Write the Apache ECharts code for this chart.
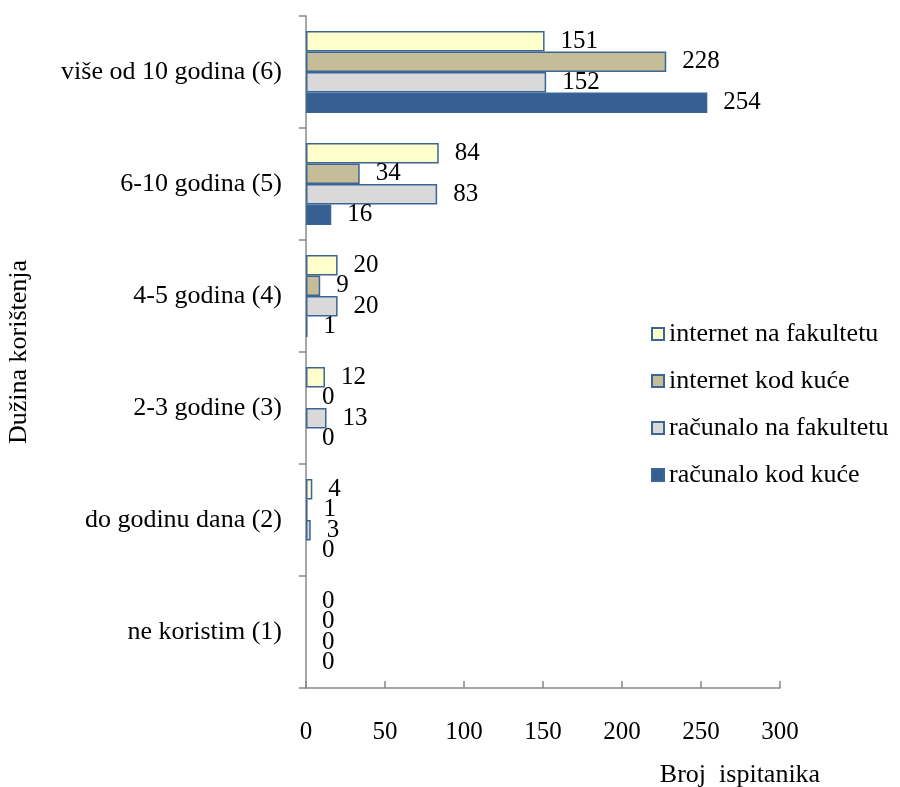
<!DOCTYPE html>
<html><head><meta charset="utf-8">
<script src="https://cdn.jsdelivr.net/npm/echarts@6/dist/echarts.min.js"></script>
<style>html,body{margin:0;padding:0;background:#fff}#c{width:900px;height:787px}</style>
</head><body><div id="c"></div>
<script>
const categories = ['ne koristim (1)', 'do godinu dana (2)', '2-3 godine (3)', '4-5 godina (4)', '6-10 godina (5)', 'više od 10 godina (6)'];
const internetNaFakultetu = [0, 4, 12, 20, 84, 151];
const internetKodKuce = [0, 1, 0, 9, 34, 228];
const racunaloNaFakultetu = [0, 3, 13, 20, 83, 152];
const racunaloKodKuce = [0, 0, 0, 1, 16, 254];
const xTicks = [0, 50, 100, 150, 200, 250, 300];
const legendOrder = ['internet na fakultetu', 'internet kod kuće', 'računalo na fakultetu', 'računalo kod kuće'];

const font = 'Liberation Serif';
const border = '#3B6597';
function s(name, data, fill) {
  return {
    name, type: 'bar',
    data: data.map(v => v === 0 ? { value: v, itemStyle: { borderWidth: 0 } } : v),
    barGap: '0%', barCategoryGap: '27%',
    itemStyle: { color: fill, borderColor: border, borderWidth: 1.5 },
    label: { show: true, position: 'right', distance: 16, color: '#000', fontFamily: font, fontSize: 25 }
  };
}
const chart = echarts.init(document.getElementById('c'));
chart.setOption({
  animation: false,
  backgroundColor: '#fff',
  textStyle: { fontFamily: font },
  grid: { left: 306, right: 120, top: 16, bottom: 99, containLabel: false, outerBoundsMode: 'none' },
  legend: {
    data: legendOrder, orient: 'vertical', left: 646, top: 316,
    itemWidth: 12, itemHeight: 12, itemGap: 21,
    textStyle: { fontFamily: font, fontSize: 26, color: '#000' },
    icon: 'rect'
  },
  xAxis: {
    type: 'value', min: xTicks[0], max: xTicks[xTicks.length - 1], interval: 50,
    name: 'Broj  ispitanika', nameLocation: 'middle', nameGap: 74,
    nameTextStyle: { fontFamily: font, fontSize: 26, color: '#000', padding: [0, 0, 0, 394] },
    axisLine: { show: true, lineStyle: { color: '#888', width: 1.5 } },
    axisTick: { show: true, inside: true, length: 7, lineStyle: { color: '#888', width: 1.5 } },
    axisLabel: { margin: 32, fontFamily: font, fontSize: 25, color: '#000' },
    splitLine: { show: false }
  },
  yAxis: {
    type: 'category', data: categories,
    name: 'Dužina korištenja', nameLocation: 'middle', nameGap: 274, nameRotate: 90,
    nameTextStyle: { fontFamily: font, fontSize: 26, color: '#000' },
    axisLine: { show: true, lineStyle: { color: '#888', width: 1.5 } },
    axisTick: { show: true, length: 7, lineStyle: { color: '#888', width: 1.5 } },
    axisLabel: { margin: 24, fontFamily: font, fontSize: 26, color: '#000' }
  },
  series: [
    s('računalo kod kuće', racunaloKodKuce, '#376092'),
    s('računalo na fakultetu', racunaloNaFakultetu, '#D9D9D9'),
    s('internet kod kuće', internetKodKuce, '#C4BD97'),
    s('internet na fakultetu', internetNaFakultetu, '#FFFFCC')
  ].reverse()
});
</script></body></html>
